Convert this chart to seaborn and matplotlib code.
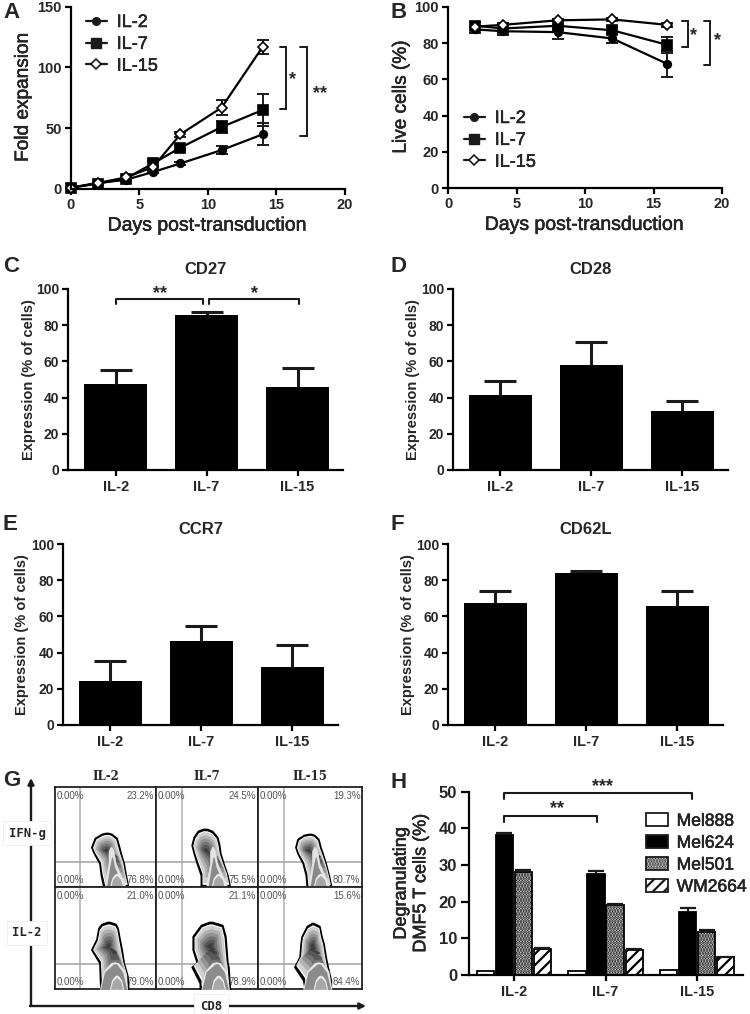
import numpy as np
import pandas as pd
import matplotlib
matplotlib.use("Agg")
import matplotlib.pyplot as plt
import matplotlib.patheffects as pe
import seaborn as sns
from matplotlib.lines import Line2D
from matplotlib.patches import Patch

sns.set_theme(style="ticks")
plt.rcParams['font.family'] = ['Liberation Sans', 'DejaVu Sans']
plt.rcParams['hatch.linewidth'] = 1.6

# ---------- data ----------
cytokines = ["IL-2", "IL-7", "IL-15"]

days_a = [0, 2, 4, 6, 8, 11, 14]
a_il2 = [1, 5, 7.5, 14, 21, 32, 45]
a_il2_err = [0, 1, 1, 1, 1, 3, 9]
a_il7 = [1, 4.5, 8.5, 21, 34, 51, 65]
a_il7_err = [0, 1, 1, 2, 2, 5, 13]
a_il15 = [1, 5, 9.5, 18, 45, 67, 117]
a_il15_err = [0, 1, 1, 2, 2, 6, 6]

days_b = [2, 4, 8, 12, 16]
b_il2 = [87.5, 86.5, 86, 82.5, 68.5]
b_il2_err = [2, 2, 4, 2.5, 7]
b_il7 = [89.5, 88, 89.5, 87, 79]
b_il7_err = [2, 2, 2, 2, 4.5]
b_il15 = [89, 90, 92.5, 93, 90]
b_il15_err = [1, 1, 1, 1, 1]

cd27 = [47.5, 85.5, 46]
cd27_err = [7.5, 2, 10.5]
cd28 = [41.5, 58, 32.5]
cd28_err = [7.5, 12.5, 5.5]
ccr7 = [24.5, 46.5, 32]
ccr7_err = [11, 8, 12]
cd62l = [67.5, 84, 65.5]
cd62l_err = [6.5, 1, 8.5]

targets = ["Mel888", "Mel624", "Mel501", "WM2664"]
mel888 = [1, 1, 1.3]
mel624 = [38.2, 27.5, 17.2]
mel624_err = [0.5, 1, 1]
mel501 = [28.2, 19.2, 11.7]
mel501_err = [0.5, 0.3, 0.5]
wm2664 = [7.2, 6.7, 4.8]
wm2664_err = [0.1, 0.3, 0.1]

# flow panels: quadrant percentages
flow_ur = ["23.2%", "24.5%", "19.3%", "21.0%", "21.1%", "15.6%"]
flow_lr = ["76.8%", "75.5%", "80.7%", "79.0%", "78.9%", "84.4%"]
# population outlines (percent of a cell)
flow_h = [
    [0, 12, 24, 34, 40, 49, 53, 54],
    [0, 12, 24, 34, 42, 50, 56, 58],
    [0, 12, 24, 34, 40, 48, 52, 53],
    [0, 12, 26, 39, 49, 60, 64, 66],
    [0, 6, 22, 26, 39, 52, 63, 66],
    [0, 9, 22, 32, 45, 52, 62, 65],
]
flow_l = [
    [48, 45.5, 44, 38.5, 36, 39.5, 46, 50],
    [44, 44, 40, 37, 35, 37, 41, 46],
    [47, 46, 43, 38, 36, 38, 44, 49],
    [45, 44.5, 44, 36, 41, 43, 46, 52],
    [43, 43, 35, 40, 36, 36, 44, 52],
    [45, 43.5, 35, 40, 41, 42, 47, 52],
]
flow_r = [
    [72.5, 70, 68, 65, 63.5, 61, 56, 53],
    [72.5, 70, 66, 63, 62, 60, 55, 50],
    [70.5, 68, 65, 62, 60, 58, 54, 51],
    [72.5, 72, 68, 66, 64, 62, 60, 54],
    [72.5, 72, 71, 70, 69, 68, 65, 55],
    [70, 70, 67, 65, 63, 61, 59, 53],
]
flow_core_x = [61, 61, 60, 61, 61, 60]

W, H = 750, 1014
fig = plt.figure(figsize=(W / 100, H / 100), dpi=100)
thick = [pe.withStroke(linewidth=0.35, foreground="black")]


def add_ax(l, t, r, b):
    ax = fig.add_axes([l / W, 1 - b / H, (r - l) / W, (b - t) / H])
    ax.patch.set_alpha(0)
    sns.despine(ax=ax)
    for s in ("left", "bottom"):
        ax.spines[s].set_linewidth(1.6)
        ax.spines[s].set_color("black")
    ax.tick_params(width=1.6, length=4, color="black", pad=2.5)
    return ax


def upper_err(ax, xs, vals, errs, lw, cap):
    eb = ax.errorbar(xs, vals, yerr=[[0] * len(errs), errs], fmt="none", ecolor="k",
                     elinewidth=lw, capsize=cap, capthick=lw, clip_on=False)
    eb[1][0].set_visible(False)


def bracket(ax, x, y0, y1, tick):
    ax.plot([x - tick, x, x, x - tick], [y0, y0, y1, y1], color="k", lw=1.4,
            clip_on=False, solid_joinstyle="miter")


def hbracket(ax, x0, x1, y, drop):
    ax.plot([x0, x0, x1, x1], [y - drop, y, y, y - drop], color="k", lw=1.5,
            clip_on=False, solid_joinstyle="round")


def stars(ax, x, y, s, size=13):
    ax.text(x, y, s, ha="center", va="center", fontsize=size, fontweight="bold", clip_on=False)


def line_panel(ax, days, series, errs):
    styles = [("o", "black", 5.5), ("s", "black", 6.5), ("D", "white", 5.5)]
    for name, vals, err, (mk, face, ms) in zip(cytokines, series, errs, styles):
        df = pd.DataFrame({"day": days, "value": vals})
        ax.errorbar(days, vals, yerr=err, fmt="none", ecolor="k", elinewidth=1.4,
                    capsize=4.5, capthick=1.4, clip_on=False)
        sns.lineplot(data=df, x="day", y="value", ax=ax, color="black", lw=1.6,
                     marker=mk, markersize=ms, markerfacecolor=face,
                     markeredgecolor="black", markeredgewidth=1.2, errorbar=None,
                     legend=False, clip_on=False)


def line_legend(loc_px):
    handles = [
        Line2D([], [], color="k", lw=1.6, marker="o", ms=5.5),
        Line2D([], [], color="k", lw=1.6, marker="s", ms=6.5),
        Line2D([], [], color="k", lw=1.6, marker="D", ms=5.5, mfc="white", mew=1.2),
    ]
    leg = fig.legend(handles, cytokines, loc="upper left", frameon=False, fontsize=13,
                     bbox_to_anchor=(loc_px[0] / W, 1 - loc_px[1] / H), borderpad=0, borderaxespad=0,
                     handlelength=1.15, handletextpad=0.55, labelspacing=0.27)
    for t in leg.get_texts():
        t.set_path_effects(thick)


def line_axes(ax, ylabel, lab_x):
    ax.set_xlabel("Days post-transduction", fontsize=14, labelpad=4, path_effects=thick)
    ax.set_ylabel(ylabel, fontsize=13.7, path_effects=thick)
    ax.yaxis.set_label_coords(lab_x, 0.5)
    ax.tick_params(labelsize=10.5)
    for t in ax.get_xticklabels() + ax.get_yticklabels():
        t.set_fontweight("bold")


# ---------- A ----------
ax = add_ax(70.7, 6.7, 345, 189)
line_panel(ax, days_a, [a_il2, a_il7, a_il15], [a_il2_err, a_il7_err, a_il15_err])
ax.set(xlim=(0, 20), ylim=(0, 150), xticks=[0, 5, 10, 15, 20], yticks=[0, 50, 100, 150])
line_axes(ax, "Fold expansion", -0.142)
bracket(ax, 15.7, 117, 66, 0.45)
bracket(ax, 17.2, 117, 44, 0.45)
stars(ax, 16.2, 90, "*")
stars(ax, 18.2, 78.5, "**")
line_legend((86, 14))

# ---------- B ----------
ax = add_ax(448, 6.7, 722, 188.3)
line_panel(ax, days_b, [b_il2, b_il7, b_il15], [b_il2_err, b_il7_err, b_il15_err])
ax.set(xlim=(0, 20), ylim=(0, 100), xticks=[0, 5, 10, 15, 20], yticks=[0, 20, 40, 60, 80, 100])
line_axes(ax, "Live cells (%)", -0.14)
bracket(ax, 17.5, 92, 78, 0.45)
bracket(ax, 19.1, 92, 68, 0.45)
stars(ax, 17.95, 84, "*")
stars(ax, 19.7, 81.5, "*")
line_legend((464, 110))


# ---------- C-F ----------
def bar_panel(box, vals, errs, title, pad, xlim, lab_x):
    ax = add_ax(*box)
    df = pd.DataFrame({"cytokine": cytokines, "value": vals})
    sns.barplot(data=df, x="cytokine", y="value", ax=ax, color="black", saturation=1,
                width=0.69, errorbar=None, edgecolor="black", linewidth=0)
    upper_err(ax, range(3), vals, errs, 2.2, 11.5)
    ax.set(xlim=xlim, ylim=(0, 100), yticks=[0, 20, 40, 60, 80, 100])
    ax.set_xlabel("")
    ax.set_ylabel("Expression (% of cells)", fontsize=10.5, fontweight="bold")
    ax.yaxis.set_label_coords(lab_x, 0.5)
    ax.set_title(title, fontsize=12, fontweight="bold", pad=pad)
    ax.tick_params(axis="y", labelsize=10)
    ax.tick_params(axis="x", labelsize=10.5, pad=3)
    for t in ax.get_xticklabels() + ax.get_yticklabels():
        t.set_fontweight("bold")
    return ax


ax = bar_panel((68, 289, 343, 470), cd27, cd27_err, "CD27", 11, (-0.524, 2.5), -0.116)
hbracket(ax, 0, 0.965, 94.5, 3)
hbracket(ax, 1.03, 2.02, 94.5, 3)
stars(ax, 0.49, 97.5, "**")
stars(ax, 1.53, 97.5, "*")
bar_panel((453, 289, 728, 470), cd28, cd28_err, "CD28", 11, (-0.516, 2.5), -0.12)
bar_panel((63, 544, 338, 725), ccr7, ccr7_err, "CCR7", 7, (-0.516, 2.5), -0.123)
bar_panel((448, 544, 723, 725), cd62l, cd62l_err, "CD62L", 7, (-0.516, 2.5), -0.12)

# ---------- G ----------
col_px = [55, 156, 258, 362]
row_px = [786.7, 887.3, 989.3]
for i in range(6):
    r, c = divmod(i, 3)
    cell = fig.add_axes([col_px[c] / W, 1 - row_px[r + 1] / H,
                         (col_px[c + 1] - col_px[c]) / W, (row_px[r + 1] - row_px[r]) / H])
    cell.set(xlim=(0, 100), ylim=(0, 100), xticks=[], yticks=[])
    for s in cell.spines.values():
        s.set_linewidth(1.3)
        s.set_color("#222222")
    cell.axvline(25, color="#b5b5b5", lw=1.2)
    cell.axhline(25, color="#a8a8a8", lw=1.2)

    h = np.array(flow_h[i], float)
    lft = np.array(flow_l[i], float)
    rgt = np.array(flow_r[i], float)
    mid = (lft + rgt) / 2
    fy = 36 if r == 0 else 42
    ramp = ["black", "white", "#d0d0d0", "#b0b0b0", "#929292", "#747474", "#585858", "#3e3e3e"]
    scales = [1, 0.92, 0.87, 0.72, 0.58, 0.44, 0.3, 0.16]
    for s, col in zip(scales, ramp):
        cell.fill_betweenx(fy + (h - fy) * s, mid + (lft - mid) * s, mid + (rgt - mid) * s,
                           color=col, lw=1.2 if s == 1 else 0, zorder=3)
    cx = flow_core_x[i]
    if r == 0:
        # bright spike above the bottom core
        cell.fill_betweenx([0, 24, 36, 40], [cx - 12, cx - 8, cx - 8, cx - 6],
                           [cx + 9, cx - 1, cx - 3, cx - 5], color="#e4e4e4", lw=0.5, zorder=4)
        cell.fill_betweenx([0, 20, 30], [cx - 10, cx - 7, cx - 5], [cx + 7, cx - 2, cx - 4],
                           color="#8a8a8a", lw=0, zorder=4)
    else:
        cell.fill_betweenx([0, 18, 26, 27], [cx - 17, cx - 13, cx - 6, cx - 2],
                           [cx + 11, cx + 8, cx + 2, cx - 2], color="#e8e8e8", lw=0, zorder=4)
        cell.fill_betweenx([0, 17, 25], [cx - 16, cx - 12, cx - 3], [cx + 10, cx + 6, cx],
                           color="#8c8c8c", lw=0, zorder=4)
    cell.fill_betweenx([0, 9, 13, 14], [cx - 7, cx - 5, cx - 2, cx], [cx + 7, cx + 5, cx + 2, cx],
                       color="#eeeeee", lw=0, zorder=5)
    cell.fill_betweenx([0, 8, 12], [cx - 6, cx - 4, cx], [cx + 6, cx + 4, cx],
                       color="#a8a8a8", lw=0, zorder=5)

    tk = dict(fontsize=7, color="#555555", zorder=6)
    cell.text(1.5, 96, "0.00%", ha="left", va="top", **tk)
    cell.text(1.5, 2, "0.00%", ha="left", va="bottom", **tk)
    cell.text(98.5, 96, flow_ur[i], ha="right", va="top", **tk)
    cell.text(98.5, 2, flow_lr[i], ha="right", va="bottom", **tk)
    if r == 0:
        cell.text(50, 104, cytokines[c], ha="center", va="bottom", fontsize=8.5,
                  fontweight="bold", family="DejaVu Serif")

# ---------- H ----------
ax = add_ax(469, 791.7, 743, 975)
long_df = pd.DataFrame({
    "cytokine": cytokines * 4,
    "target": np.repeat(targets, 3),
    "value": mel888 + mel624 + mel501 + wm2664,
})
pal = {"Mel888": "white", "Mel624": "black", "Mel501": "white", "WM2664": "white"}
sns.barplot(data=long_df, x="cytokine", y="value", hue="target", hue_order=targets, ax=ax,
            palette=pal, saturation=1, width=0.83, gap=0.1, errorbar=None,
            edgecolor="black", linewidth=1.3, legend=False)
hatches = ["", "", "......", "///"]
for cont, ht in zip(ax.containers, hatches):
    for p in cont:
        p.set_hatch(ht)
offs = {1: mel624_err, 2: mel501_err, 3: wm2664_err}
vals_by = {1: mel624, 2: mel501, 3: wm2664}
for k, e in offs.items():
    xs = [g + (k - 1.5) * 0.2075 for g in range(3)]
    upper_err(ax, xs, vals_by[k], e, 1.6, 5.5)
ax.set(xlim=(-0.49, 2.5), ylim=(0, 50), yticks=[0, 10, 20, 30, 40, 50])
ax.set_xlabel("")
ax.set_ylabel("Degranulating\nDMF5 T cells (%)", fontsize=13, linespacing=1.2, path_effects=thick)
ax.yaxis.set_label_coords(-0.145, 0.5)
ax.tick_params(axis="y", labelsize=12, length=6)
ax.tick_params(axis="x", labelsize=10.5, pad=3.5)
for t in ax.get_xticklabels() + ax.get_yticklabels():
    t.set_fontweight("bold")
hbracket(ax, -0.11, 1.945, 49.6, 1.6)
hbracket(ax, -0.11, 0.907, 43.4, 1.7)
stars(ax, 0.97, 51.3, "***")
stars(ax, 0.47, 45.5, "**")
leg_handles = [
    Patch(facecolor="white", edgecolor="k", lw=1.3),
    Patch(facecolor="black", edgecolor="k", lw=1.3),
    Patch(facecolor="white", edgecolor="k", lw=1.3, hatch="......"),
    Patch(facecolor="white", edgecolor="k", lw=1.3, hatch="///"),
]
leg = fig.legend(leg_handles, targets, loc="upper left", frameon=False, fontsize=12.6,
                 bbox_to_anchor=(646 / W, 1 - 813 / H), borderpad=0, borderaxespad=0,
                 handlelength=1.25, handleheight=0.8, handletextpad=0.5, labelspacing=0.35)
for t in leg.get_texts():
    t.set_path_effects(thick)

# ---------- overlay: panel letters and flow axes ----------
ov = fig.add_axes([0, 0, 1, 1], zorder=10)
ov.set(xlim=(0, W), ylim=(H, 0))
ov.axis("off")
for s, x, y in [("A", 3, 12), ("B", 390, 12), ("C", 3, 267), ("D", 390, 267),
                ("E", 3, 525), ("F", 390, 525), ("G", 3, 780), ("H", 391, 783)]:
    ov.text(x, y, s, fontsize=16, fontweight="bold", ha="left", va="center")
arrow = dict(arrowstyle="-|>", color="k", lw=1.7, mutation_scale=9, shrinkA=0, shrinkB=0)
ov.annotate("", xy=(31, 778), xytext=(31, 1006), arrowprops=arrow)
ov.annotate("", xy=(366, 1006), xytext=(30, 1006), arrowprops=arrow)
box = dict(facecolor="white", edgecolor="#eeeeee", lw=0.6, pad=4)
mono = dict(family="DejaVu Sans Mono", fontweight="bold", fontsize=8.8, ha="center", va="center")
ov.text(27, 833, "IFN-g", bbox=box, **mono)
ov.text(27, 933, "IL-2", bbox=box, **mono)
ov.text(211, 1006, "CD8", bbox=box, **mono)

fig.savefig("out.png", dpi=100)
